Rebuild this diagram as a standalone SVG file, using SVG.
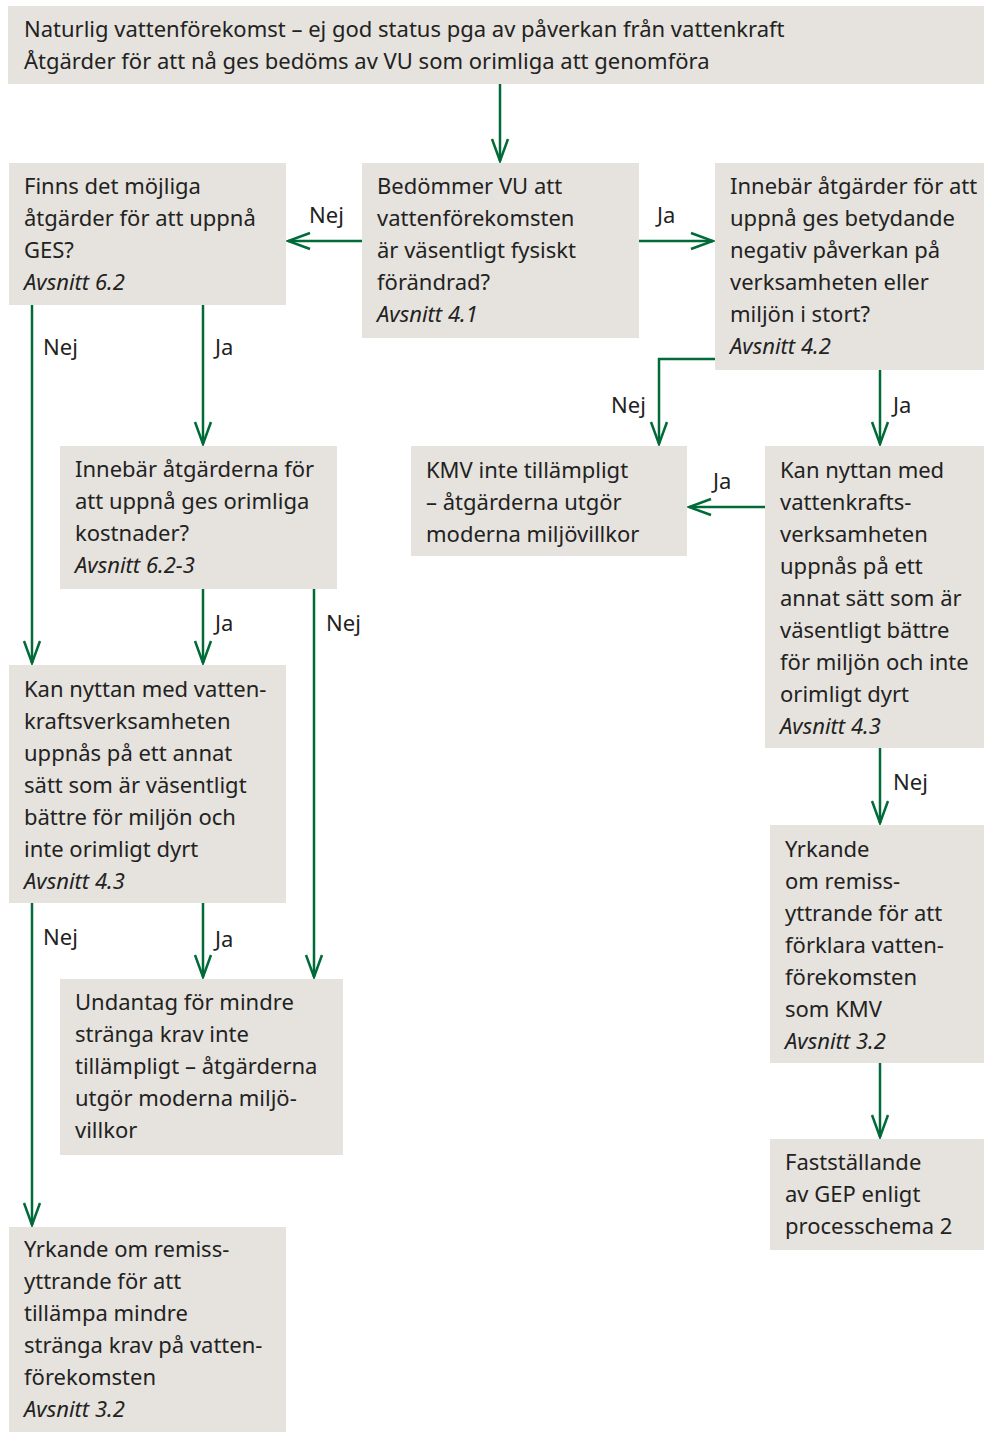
<svg xmlns="http://www.w3.org/2000/svg" width="984" height="1432" viewBox="0 0 984 1432">
<defs>
<style>
.box{fill:#e6e2dd}
.t{font-family:"Noto Sans","Open Sans",sans-serif;font-size:22px;fill:#222}
.i{font-style:italic}
.c{fill:none;stroke:#006b38;stroke-width:2.5}
.l{font-family:"Noto Sans","Open Sans",sans-serif;font-size:22px;fill:#222}
</style>
<marker id="ah" viewBox="0 0 26 20" markerWidth="26" markerHeight="20" refX="24" refY="10" orient="auto" markerUnits="userSpaceOnUse">
<path d="M2,2 L24,10 L2,18" fill="none" stroke="#006b38" stroke-width="2.5"/>
</marker>
</defs>
<rect width="984" height="1432" fill="#fff"/>
<g id="connectors">
<path class="c" d="M500,84 V161" marker-end="url(#ah)"/>
<path class="c" d="M362,241 H288" marker-end="url(#ah)"/>
<path class="c" d="M639,241 H713" marker-end="url(#ah)"/>
<path class="c" d="M715,359 H659 V444" marker-end="url(#ah)"/>
<path class="c" d="M880,370 V444" marker-end="url(#ah)"/>
<path class="c" d="M765,507 H689" marker-end="url(#ah)"/>
<path class="c" d="M880,748 V823" marker-end="url(#ah)"/>
<path class="c" d="M880,1063 V1137" marker-end="url(#ah)"/>
<path class="c" d="M32,305 V663" marker-end="url(#ah)"/>
<path class="c" d="M203,305 V444" marker-end="url(#ah)"/>
<path class="c" d="M203,588 V663" marker-end="url(#ah)"/>
<path class="c" d="M314,588 V977" marker-end="url(#ah)"/>
<path class="c" d="M32,903 V1225" marker-end="url(#ah)"/>
<path class="c" d="M203,903 V977" marker-end="url(#ah)"/>
<text class="l" x="309" y="223">Nej</text>
<text class="l" x="657" y="223">Ja</text>
<text class="l" x="611" y="413">Nej</text>
<text class="l" x="893" y="413">Ja</text>
<text class="l" x="713" y="489">Ja</text>
<text class="l" x="893" y="790">Nej</text>
<text class="l" x="43" y="355">Nej</text>
<text class="l" x="215" y="355">Ja</text>
<text class="l" x="215" y="631">Ja</text>
<text class="l" x="326" y="631">Nej</text>
<text class="l" x="43" y="945">Nej</text>
<text class="l" x="215" y="947">Ja</text>
</g>
<g id="n-start">
<rect class="box" x="8" y="6" width="976" height="78"/>
<text class="t" x="24" y="37">Naturlig vattenförekomst – ej god status pga av påverkan från vattenkraft</text>
<text class="t" x="24" y="69">Åtgärder för att nå ges bedöms av VU som orimliga att genomföra</text>
</g>
<g id="n-finns">
<rect class="box" x="9" y="163" width="277" height="142"/>
<text class="t" x="24" y="194">Finns det möjliga</text>
<text class="t" x="24" y="226">åtgärder för att uppnå</text>
<text class="t" x="24" y="258">GES?</text>
<text class="t i" x="24" y="290">Avsnitt 6.2</text>
</g>
<g id="n-bedommer">
<rect class="box" x="362" y="163" width="277" height="175"/>
<text class="t" x="377" y="194">Bedömmer VU att</text>
<text class="t" x="377" y="226">vattenförekomsten</text>
<text class="t" x="377" y="258">är väsentligt fysiskt</text>
<text class="t" x="377" y="290">förändrad?</text>
<text class="t i" x="377" y="322">Avsnitt 4.1</text>
</g>
<g id="n-innebar-ges">
<rect class="box" x="715" y="163" width="269" height="207"/>
<text class="t" x="730" y="194">Innebär åtgärder för att</text>
<text class="t" x="730" y="226">uppnå ges betydande</text>
<text class="t" x="730" y="258">negativ påverkan på</text>
<text class="t" x="730" y="290">verksamheten eller</text>
<text class="t" x="730" y="322">miljön i stort?</text>
<text class="t i" x="730" y="354">Avsnitt 4.2</text>
</g>
<g id="n-kmv-inte">
<rect class="box" x="411" y="446" width="276" height="110"/>
<text class="t" x="426" y="478">KMV inte tillämpligt</text>
<text class="t" x="426" y="510">– åtgärderna utgör</text>
<text class="t" x="426" y="542">moderna miljövillkor</text>
</g>
<g id="n-kan-nyttan-right">
<rect class="box" x="765" y="446" width="219" height="302"/>
<text class="t" x="780" y="478">Kan nyttan med</text>
<text class="t" x="780" y="510">vattenkrafts-</text>
<text class="t" x="780" y="542">verksamheten</text>
<text class="t" x="780" y="574">uppnås på ett</text>
<text class="t" x="780" y="606">annat sätt som är</text>
<text class="t" x="780" y="638">väsentligt bättre</text>
<text class="t" x="780" y="670">för miljön och inte</text>
<text class="t" x="780" y="702">orimligt dyrt</text>
<text class="t i" x="780" y="734">Avsnitt 4.3</text>
</g>
<g id="n-yrkande-kmv">
<rect class="box" x="770" y="825" width="214" height="238"/>
<text class="t" x="785" y="857">Yrkande</text>
<text class="t" x="785" y="889">om remiss-</text>
<text class="t" x="785" y="921">yttrande för att</text>
<text class="t" x="785" y="953">förklara vatten-</text>
<text class="t" x="785" y="985">förekomsten</text>
<text class="t" x="785" y="1017">som KMV</text>
<text class="t i" x="785" y="1049">Avsnitt 3.2</text>
</g>
<g id="n-faststallande">
<rect class="box" x="770" y="1139" width="214" height="111"/>
<text class="t" x="785" y="1170">Fastställande</text>
<text class="t" x="785" y="1202">av GEP enligt</text>
<text class="t" x="785" y="1234">processchema 2</text>
</g>
<g id="n-innebar-kostnader">
<rect class="box" x="60" y="446" width="277" height="143"/>
<text class="t" x="75" y="477">Innebär åtgärderna för</text>
<text class="t" x="75" y="509">att uppnå ges orimliga</text>
<text class="t" x="75" y="541">kostnader?</text>
<text class="t i" x="75" y="573">Avsnitt 6.2-3</text>
</g>
<g id="n-kan-nyttan-left">
<rect class="box" x="9" y="665" width="277" height="238"/>
<text class="t" x="24" y="697">Kan nyttan med vatten-</text>
<text class="t" x="24" y="729">kraftsverksamheten</text>
<text class="t" x="24" y="761">uppnås på ett annat</text>
<text class="t" x="24" y="793">sätt som är väsentligt</text>
<text class="t" x="24" y="825">bättre för miljön och</text>
<text class="t" x="24" y="857">inte orimligt dyrt</text>
<text class="t i" x="24" y="889">Avsnitt 4.3</text>
</g>
<g id="n-undantag">
<rect class="box" x="60" y="979" width="283" height="176"/>
<text class="t" x="75" y="1010">Undantag för mindre</text>
<text class="t" x="75" y="1042">stränga krav inte</text>
<text class="t" x="75" y="1074">tillämpligt – åtgärderna</text>
<text class="t" x="75" y="1106">utgör moderna miljö-</text>
<text class="t" x="75" y="1138">villkor</text>
</g>
<g id="n-yrkande-mindre">
<rect class="box" x="9" y="1227" width="277" height="205"/>
<text class="t" x="24" y="1257">Yrkande om remiss-</text>
<text class="t" x="24" y="1289">yttrande för att</text>
<text class="t" x="24" y="1321">tillämpa mindre</text>
<text class="t" x="24" y="1353">stränga krav på vatten-</text>
<text class="t" x="24" y="1385">förekomsten</text>
<text class="t i" x="24" y="1417">Avsnitt 3.2</text>
</g>
</svg>
